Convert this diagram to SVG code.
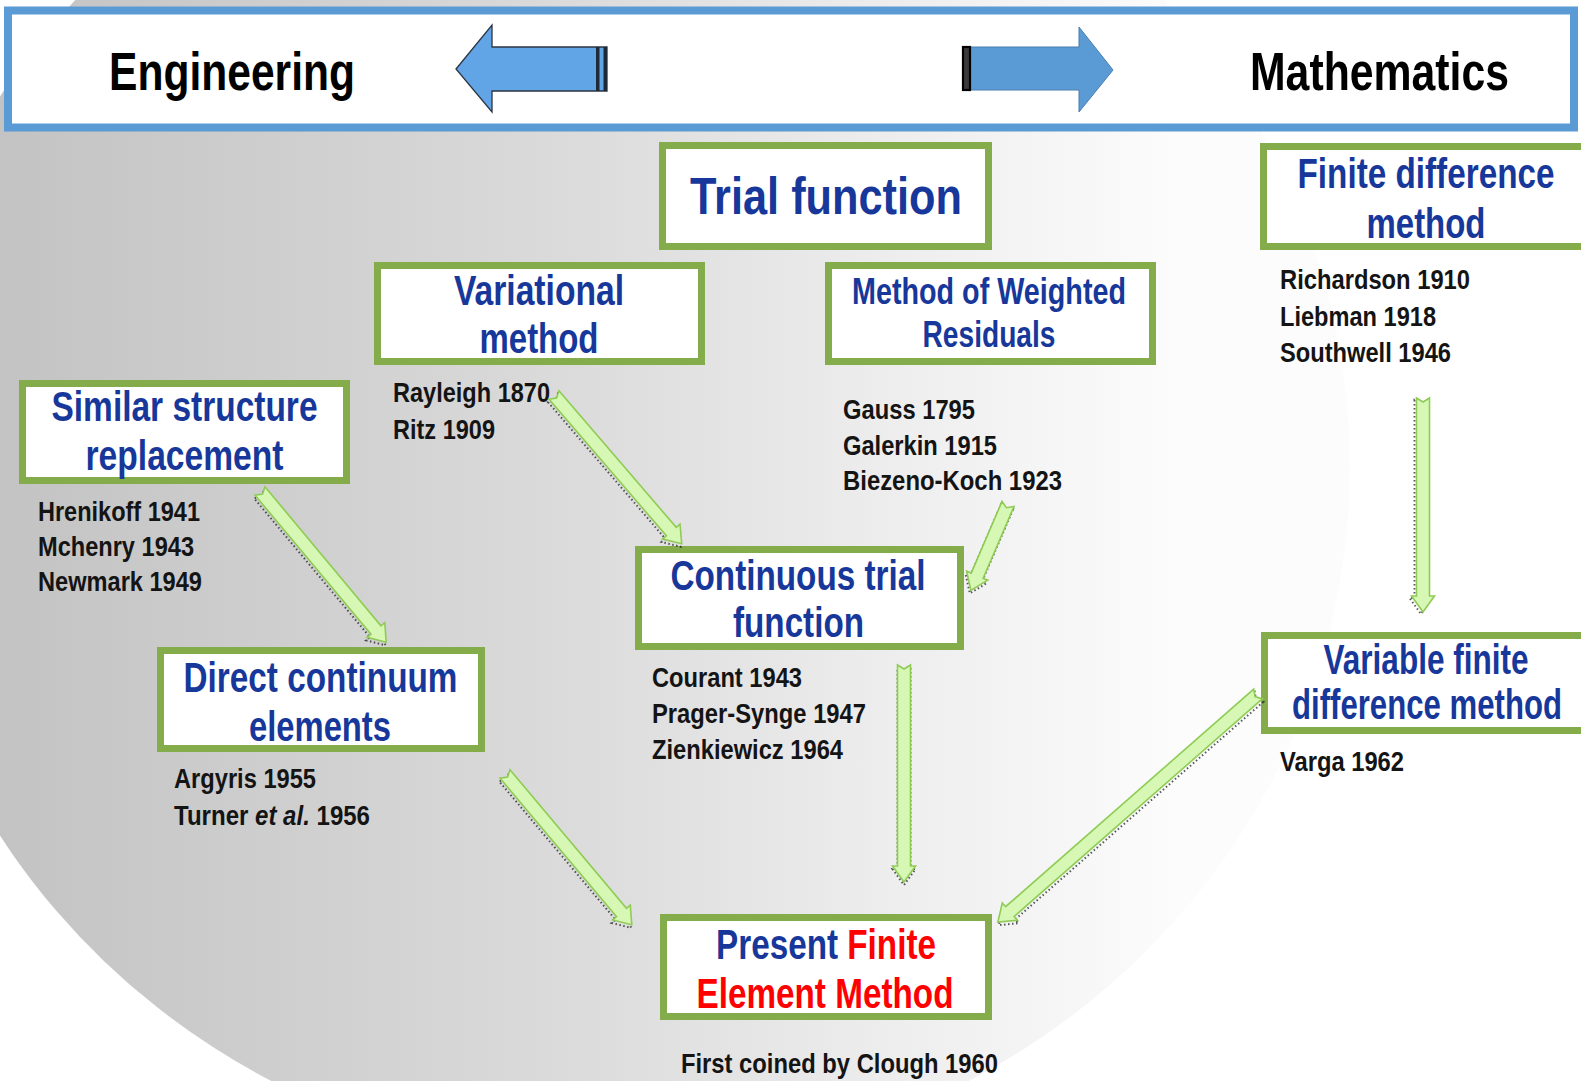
<svg xmlns="http://www.w3.org/2000/svg" width="1581" height="1081" viewBox="0 0 1581 1081">
<defs>
<linearGradient id="bg" gradientUnits="userSpaceOnUse" x1="0" y1="0" x2="1180" y2="0">
<stop offset="0" stop-color="#c3c3c3"/>
<stop offset="0.25" stop-color="#cfcfcf"/>
<stop offset="0.5" stop-color="#dcdcdc"/>
<stop offset="0.75" stop-color="#ededed"/>
<stop offset="1" stop-color="#fcfcfc"/>
</linearGradient>
<style>
.box{fill:#fff;stroke:#84ac4a;stroke-width:7}
.lbl{font-family:"Liberation Sans",Arial,sans-serif;font-weight:bold;fill:#17389a;text-anchor:middle}
.red{fill:#ff0000}
.note{font-family:"Liberation Sans",Arial,sans-serif;font-weight:bold;fill:#141414;font-size:28px}
.head{font-family:"Liberation Sans",Arial,sans-serif;font-weight:bold;fill:#000;font-size:54px}
.ga{fill:#d6f8b4;stroke:#8fcb55;stroke-width:1.6;stroke-linejoin:miter}
.sh{fill:none;stroke:#222;stroke-width:2;stroke-dasharray:1.5 2.5;opacity:0.75}
</style>
</defs>
<rect x="0" y="0" width="1581" height="1081" fill="#fff"/>
<ellipse cx="620" cy="466" rx="730" ry="700" fill="url(#bg)"/>

<g id="header">
<rect x="8" y="10.5" width="1566" height="117" fill="#fff" stroke="#5b9bd5" stroke-width="8"/>
<text class="head" x="109" y="90" textLength="246" lengthAdjust="spacingAndGlyphs">Engineering</text>
<text class="head" x="1250" y="90" textLength="259" lengthAdjust="spacingAndGlyphs">Mathematics</text>
<g id="arrow-left">
<polygon points="456,69 492,25 492,47 607,47 607,91 492,91 492,112" fill="#62a5e6" stroke="#2c3440" stroke-width="1.3"/>
<rect x="596" y="47" width="3.5" height="44" fill="#1e2a38"/>
<rect x="603.5" y="47" width="3.5" height="44" fill="#1e2a38"/>
</g>
<g id="arrow-right">
<polygon points="970,47 1079,47 1079,27 1113,70 1079,112 1079,90 970,90" fill="#5b9bd5" stroke="#4a7db0" stroke-width="1"/>
<rect x="963" y="47" width="7" height="43" fill="#3a3a3a" stroke="#000" stroke-width="2.2"/>
</g>
</g>

<g id="node-trial">
<rect class="box" x="662.5" y="145.5" width="326" height="101"/>
<text class="lbl" x="826" y="214" font-size="52" textLength="272" lengthAdjust="spacingAndGlyphs">Trial function</text>
</g>
<g id="node-fd">
<rect class="box" x="1263.5" y="146.5" width="330" height="100"/>
<text class="lbl" x="1426" y="188" font-size="42" textLength="257" lengthAdjust="spacingAndGlyphs">Finite difference</text>
<text class="lbl" x="1426" y="238" font-size="42" textLength="119" lengthAdjust="spacingAndGlyphs">method</text>
</g>
<g id="node-var">
<rect class="box" x="377.5" y="265.5" width="324" height="96"/>
<text class="lbl" x="539" y="305" font-size="42" textLength="170" lengthAdjust="spacingAndGlyphs">Variational</text>
<text class="lbl" x="539" y="353" font-size="42" textLength="119" lengthAdjust="spacingAndGlyphs">method</text>
</g>
<g id="node-mwr">
<rect class="box" x="828.5" y="265.5" width="324" height="96"/>
<text class="lbl" x="989" y="304" font-size="37" textLength="274" lengthAdjust="spacingAndGlyphs">Method of Weighted</text>
<text class="lbl" x="989" y="347" font-size="37" textLength="133" lengthAdjust="spacingAndGlyphs">Residuals</text>
</g>
<g id="node-ssr">
<rect class="box" x="22.5" y="383.5" width="324" height="97"/>
<text class="lbl" x="184.5" y="421" font-size="42" textLength="266" lengthAdjust="spacingAndGlyphs">Similar structure</text>
<text class="lbl" x="184.5" y="470" font-size="42" textLength="198" lengthAdjust="spacingAndGlyphs">replacement</text>
</g>
<g id="node-ctf">
<rect class="box" x="638.5" y="549.5" width="322" height="97"/>
<text class="lbl" x="798" y="590" font-size="42" textLength="255" lengthAdjust="spacingAndGlyphs">Continuous trial</text>
<text class="lbl" x="798.5" y="637" font-size="42" textLength="131" lengthAdjust="spacingAndGlyphs">function</text>
</g>
<g id="node-dce">
<rect class="box" x="160.5" y="650.5" width="321" height="98"/>
<text class="lbl" x="320.5" y="692" font-size="42" textLength="274" lengthAdjust="spacingAndGlyphs">Direct continuum</text>
<text class="lbl" x="320" y="741" font-size="42" textLength="142" lengthAdjust="spacingAndGlyphs">elements</text>
</g>
<g id="node-vfd">
<rect class="box" x="1264.5" y="635.5" width="330" height="95"/>
<text class="lbl" x="1426" y="674" font-size="42" textLength="205" lengthAdjust="spacingAndGlyphs">Variable finite</text>
<text class="lbl" x="1427" y="719" font-size="42" textLength="270" lengthAdjust="spacingAndGlyphs">difference method</text>
</g>
<g id="node-pfem">
<rect class="box" x="663.5" y="917.5" width="325" height="99"/>
<text class="lbl" x="826" y="959" font-size="42" textLength="220" lengthAdjust="spacingAndGlyphs">Present <tspan class="red">Finite</tspan></text>
<text class="lbl red" x="825" y="1008" font-size="42" textLength="257" lengthAdjust="spacingAndGlyphs">Element Method</text>
</g>

<g id="notes">
<text class="note" x="1280" y="289" textLength="190" lengthAdjust="spacingAndGlyphs">Richardson 1910</text>
<text class="note" x="1280" y="326" textLength="156" lengthAdjust="spacingAndGlyphs">Liebman 1918</text>
<text class="note" x="1280" y="362" textLength="171" lengthAdjust="spacingAndGlyphs">Southwell 1946</text>
<text class="note" x="393" y="402" textLength="157" lengthAdjust="spacingAndGlyphs">Rayleigh 1870</text>
<text class="note" x="393" y="439" textLength="102" lengthAdjust="spacingAndGlyphs">Ritz 1909</text>
<text class="note" x="843" y="419" textLength="132" lengthAdjust="spacingAndGlyphs">Gauss 1795</text>
<text class="note" x="843" y="455" textLength="154" lengthAdjust="spacingAndGlyphs">Galerkin 1915</text>
<text class="note" x="843" y="490" textLength="219" lengthAdjust="spacingAndGlyphs">Biezeno-Koch 1923</text>
<text class="note" x="38" y="521" textLength="162" lengthAdjust="spacingAndGlyphs">Hrenikoff 1941</text>
<text class="note" x="38" y="556" textLength="156" lengthAdjust="spacingAndGlyphs">Mchenry 1943</text>
<text class="note" x="38" y="591" textLength="164" lengthAdjust="spacingAndGlyphs">Newmark 1949</text>
<text class="note" x="652" y="687" textLength="150" lengthAdjust="spacingAndGlyphs">Courant 1943</text>
<text class="note" x="652" y="723" textLength="214" lengthAdjust="spacingAndGlyphs">Prager-Synge 1947</text>
<text class="note" x="652" y="759" textLength="191" lengthAdjust="spacingAndGlyphs">Zienkiewicz 1964</text>
<text class="note" x="174" y="788" textLength="142" lengthAdjust="spacingAndGlyphs">Argyris 1955</text>
<text class="note" x="174" y="825" textLength="196" lengthAdjust="spacingAndGlyphs">Turner <tspan font-style="italic">et al.</tspan> 1956</text>
<text class="note" x="1280" y="771" textLength="124" lengthAdjust="spacingAndGlyphs">Varga 1962</text>
<text class="note" x="681" y="1073" textLength="317" lengthAdjust="spacingAndGlyphs">First coined by Clough 1960</text>
</g>

<g id="connectors">
<g transform="translate(260,491) rotate(50.16)">
<path class="sh" transform="rotate(-50.16) translate(-1,3) rotate(50.16)" d="M0,-6.5 L181,-6.5 L181,-11.5 L197,0 L181,11.5 L181,6.5 L0,6.5 L4,0 Z"/>
<path class="ga" d="M0,-6.5 L181,-6.5 L181,-11.5 L197,0 L181,11.5 L181,6.5 L0,6.5 L4,0 Z"/>
</g>
<g transform="translate(554,395) rotate(49.34)">
<path class="sh" transform="rotate(-49.34) translate(-1,3) rotate(49.34)" d="M0,-6.5 L180,-6.5 L180,-11.5 L196,0 L180,11.5 L180,6.5 L0,6.5 L4,0 Z"/>
<path class="ga" d="M0,-6.5 L180,-6.5 L180,-11.5 L196,0 L180,11.5 L180,6.5 L0,6.5 L4,0 Z"/>
</g>
<g transform="translate(1008,504) rotate(113.28)">
<path class="sh" transform="rotate(-113.28) translate(-1,3) rotate(113.28)" d="M0,-6.5 L78,-6.5 L78,-11.5 L94,0 L78,11.5 L78,6.5 L0,6.5 L4,0 Z"/>
<path class="ga" d="M0,-6.5 L78,-6.5 L78,-11.5 L94,0 L78,11.5 L78,6.5 L0,6.5 L4,0 Z"/>
</g>
<g transform="translate(1423,398) rotate(90)">
<path class="sh" transform="rotate(-90) translate(-2,2) rotate(90)" d="M0,-6.5 L198,-6.5 L198,-11.5 L214,0 L198,11.5 L198,6.5 L0,6.5 L4,0 Z"/>
<path class="ga" d="M0,-6.5 L198,-6.5 L198,-11.5 L214,0 L198,11.5 L198,6.5 L0,6.5 L4,0 Z"/>
</g>
<g transform="translate(904,665) rotate(90)">
<path class="sh" transform="rotate(-90) translate(0,3) rotate(90)" d="M0,-6.5 L201,-6.5 L201,-11.5 L217,0 L201,11.5 L201,6.5 L0,6.5 L4,0 Z"/>
<path class="ga" d="M0,-6.5 L201,-6.5 L201,-11.5 L217,0 L201,11.5 L201,6.5 L0,6.5 L4,0 Z"/>
</g>
<g transform="translate(1258,694) rotate(138.75)">
<path class="sh" transform="rotate(-138.75) translate(1,3) rotate(138.75)" d="M0,-6.5 L330,-6.5 L330,-11.5 L346,0 L330,11.5 L330,6.5 L0,6.5 L4,0 Z"/>
<path class="ga" d="M0,-6.5 L330,-6.5 L330,-11.5 L346,0 L330,11.5 L330,6.5 L0,6.5 L4,0 Z"/>
</g>
<g transform="translate(505,774) rotate(49.94)">
<path class="sh" transform="rotate(-49.94) translate(-1,3) rotate(49.94)" d="M0,-6.5 L181,-6.5 L181,-11.5 L197,0 L181,11.5 L181,6.5 L0,6.5 L4,0 Z"/>
<path class="ga" d="M0,-6.5 L181,-6.5 L181,-11.5 L197,0 L181,11.5 L181,6.5 L0,6.5 L4,0 Z"/>
</g>
</g>
</svg>
